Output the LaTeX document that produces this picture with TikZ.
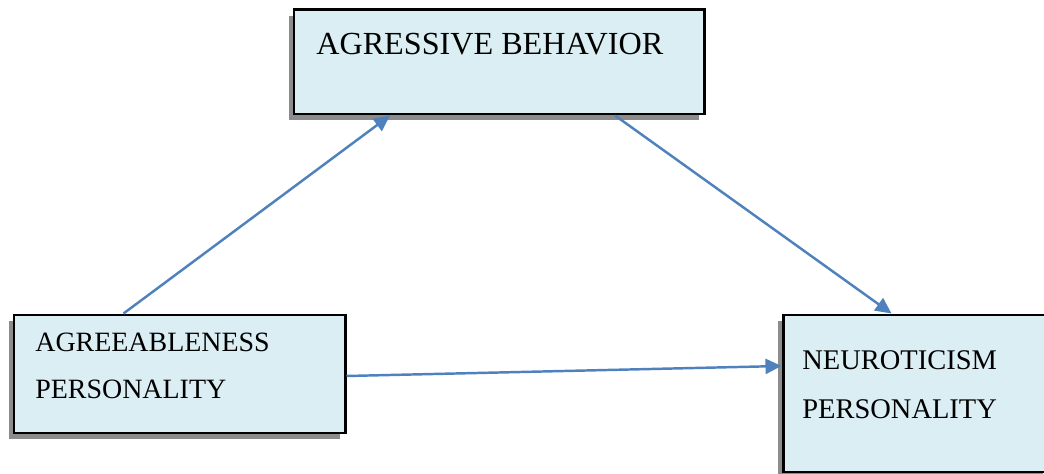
\documentclass[tikz,border=0pt]{standalone}
\usepackage{fontspec}
\setmainfont{Liberation Serif}
\usepackage{tikz}
\usetikzlibrary{arrows.meta,shadows}
\definecolor{boxfill}{HTML}{DAEEF3}
\definecolor{linkblue}{HTML}{4F81BD}
\tikzset{factor/.style={rectangle,draw=black,line width=1.7pt,fill=boxfill,inner sep=0pt,
    general shadow={fill=black!45,shadow xshift=-0.1cm,shadow yshift=-0.12cm}}}
\tikzset{label/.style={anchor=base west,inner sep=0pt}}
\tikzset{link/.style={draw=linkblue,line width=1.4pt,-{Triangle[length=0.32cm,width=0.3cm]}}}

\begin{document}
\begin{tikzpicture}
    \useasboundingbox (0,0) rectangle (20.88,-9.48);
    \node[factor,minimum width=8.2cm,minimum height=2.08cm] (aggr) at (9.98,-1.24) {};
    \node[factor,minimum width=6.62cm,minimum height=2.36cm] (agree) at (3.59,-7.48) {};
    \node[factor,minimum width=5.3cm,minimum height=3.14cm] (neuro) at (18.31,-7.87) {};
    \node[label,font=\fontsize{18.3pt}{20pt}\selectfont] (aggrtxt) at (6.32,-1.10) {AGRESSIVE BEHAVIOR};
    \node[label,font=\fontsize{15.9pt}{18pt}\selectfont] (agreetxt) at (0.70,-7.04) {AGREEABLENESS};
    \node[label,font=\fontsize{15.9pt}{18pt}\selectfont] (agreetxtb) at (0.70,-7.98) {PERSONALITY};
    \node[label,font=\fontsize{16.2pt}{18pt}\selectfont] (neurotxt) at (16.04,-7.38) {NEUROTICISM};
    \node[label,font=\fontsize{16.2pt}{18pt}\selectfont] (neurotxtb) at (16.04,-8.36) {PERSONALITY};
    \draw[link] ([xshift=2.22cm]agree.north west) -- ([xshift=-2.18cm]aggr.south);
    \draw[link] ([xshift=2.32cm]aggr.south) -- ([xshift=2.2cm]neuro.north west);
    \draw[link] ([yshift=-0.04cm]agree.east) -- ([yshift=0.55cm]neuro.west);
  \end{tikzpicture}
\end{document}
